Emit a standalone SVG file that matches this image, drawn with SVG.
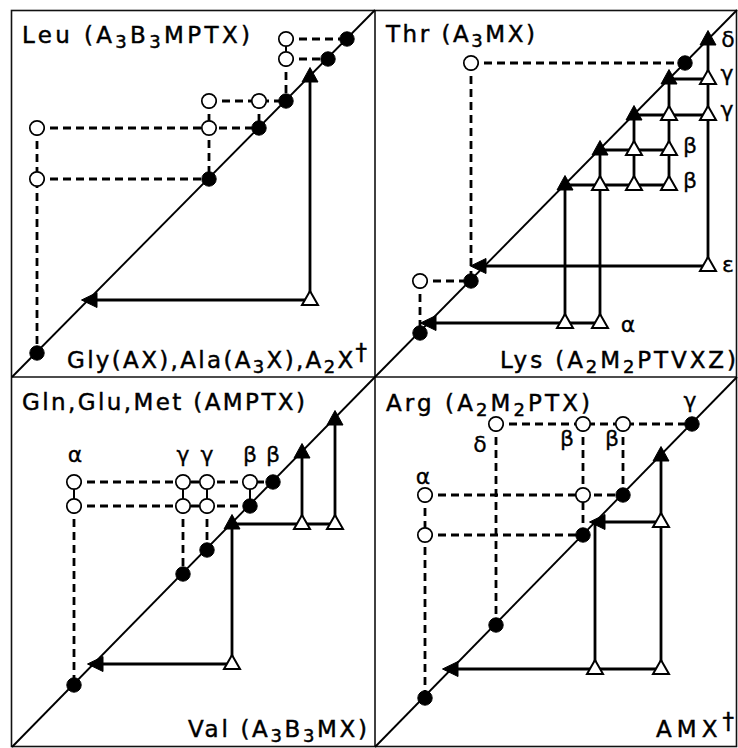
<svg xmlns="http://www.w3.org/2000/svg" xmlns:xlink="http://www.w3.org/1999/xlink" width="738" height="748" viewBox="0 0 738 748">
<style>
.frame{fill:none;stroke:#111;stroke-width:1.6}
.diag{fill:none;stroke:#000;stroke-width:1.9}
.dash{fill:none;stroke:#000;stroke-width:2.8;stroke-dasharray:8 5}
.link{fill:none;stroke:#000;stroke-width:2}
.solid{fill:none;stroke:#000;stroke-width:2.8}
.oc{fill:#fff;stroke:#000;stroke-width:1.7}
.fc{fill:#000;stroke:#000;stroke-width:1}
.t{font-family:"DejaVu Sans","Liberation Sans",sans-serif;font-size:23px;fill:#000;stroke:#000;stroke-width:0.45}
.s{font-size:18px}
.g{font-family:"DejaVu Sans","Liberation Sans",sans-serif;font-size:22px;fill:#000;stroke:#000;stroke-width:0.3;text-anchor:middle}
</style>
<defs>
<path id="tro" d="M-8,5 L8,5 L0,-9 Z" fill="#fff" stroke="#000" stroke-width="2"/>
<path id="trf" d="M-8,5 L8,5 L0,-9.5 Z" fill="#000" stroke="#000" stroke-width="1"/>
<path id="trl" d="M-9.5,0 L6,-7.5 L6,7.5 Z" fill="#000" stroke="#000" stroke-width="1"/>
</defs>
<rect x="0" y="0" width="738" height="748" fill="#fff"/>
<g id="frame">
<rect class="frame" x="11.5" y="10.5" width="725" height="736"/>
<line class="frame" x1="375" y1="10" x2="375" y2="747"/>
<line class="frame" x1="11" y1="377" x2="737" y2="377"/>
</g>

<!-- Leu panel -->
<g id="leu-connectors">
<line class="diag" x1="12" y1="377" x2="375" y2="10"/>
<path class="dash" d="M286,39 H347 M286,59 H328 M209,101 H286 M37,128 H259 M37,179 H209 M286,59 V101 M259,101 V128 M209,101 V179 M37,128 V353"/>
<path class="link" d="M286,39 V59"/>
<path class="solid" d="M310,300 V77 M310,300 H89"/>
</g>
<g id="leu-nodes">
<use xlink:href="#trf" x="310" y="77"/>
<use xlink:href="#trl" x="91" y="300"/>
<use xlink:href="#tro" x="310" y="300"/>
<circle class="fc" cx="347" cy="39" r="7.2"/>
<circle class="fc" cx="328" cy="59" r="7.2"/>
<circle class="fc" cx="286" cy="101" r="7.2"/>
<circle class="fc" cx="259" cy="128" r="7.2"/>
<circle class="fc" cx="209" cy="179" r="7.2"/>
<circle class="fc" cx="37" cy="353" r="7.2"/>
<circle class="oc" cx="286" cy="39" r="7.2"/>
<circle class="oc" cx="286" cy="59" r="7.2"/>
<circle class="oc" cx="209" cy="101" r="7.2"/>
<circle class="oc" cx="259" cy="101" r="7.2"/>
<circle class="oc" cx="37" cy="128" r="7.2"/>
<circle class="oc" cx="209" cy="128" r="7.2"/>
<circle class="oc" cx="37" cy="179" r="7.2"/>
</g>
<g id="leu-labels">
<text class="t" x="22" y="43" textLength="228" lengthAdjust="spacing">Leu (A<tspan class="s" dy="5">3</tspan><tspan dy="-5">B</tspan><tspan class="s" dy="5">3</tspan><tspan dy="-5">MPTX)</tspan></text>
<text class="t" x="67" y="368" textLength="300" lengthAdjust="spacing">Gly(AX),Ala(A<tspan class="s" dy="5">3</tspan><tspan dy="-5">X),A</tspan><tspan class="s" dy="5">2</tspan><tspan dy="-5">X</tspan><tspan dy="-8">†</tspan></text>
</g>

<!-- Thr panel -->
<g id="thr-connectors">
<line class="diag" x1="375" y1="377" x2="737" y2="10"/>
<path class="solid" d="M708,266 H486 M600,323 H430 M565,323 V185 M600,323 V150 M634,185 V115 M669,185 V79 M708,266 V40 M669,185 H565 M669,150 H600 M708,115 H634 M708,79 H669"/>
<path class="dash" d="M471,63 H685 M471,63 V281 M420,281 H471 M420,281 V333"/>
</g>
<g id="thr-nodes">
<use xlink:href="#trf" x="565" y="185"/>
<use xlink:href="#trf" x="600" y="150"/>
<use xlink:href="#trf" x="634" y="115"/>
<use xlink:href="#trf" x="669" y="79"/>
<use xlink:href="#trf" x="708" y="40"/>
<use xlink:href="#trl" x="480" y="266"/>
<use xlink:href="#trl" x="430" y="323"/>
<use xlink:href="#tro" x="600" y="185"/>
<use xlink:href="#tro" x="634" y="185"/>
<use xlink:href="#tro" x="669" y="185"/>
<use xlink:href="#tro" x="634" y="150"/>
<use xlink:href="#tro" x="669" y="150"/>
<use xlink:href="#tro" x="669" y="115"/>
<use xlink:href="#tro" x="708" y="115"/>
<use xlink:href="#tro" x="708" y="79"/>
<use xlink:href="#tro" x="708" y="266"/>
<use xlink:href="#tro" x="565" y="323"/>
<use xlink:href="#tro" x="600" y="323"/>
<circle class="fc" cx="685" cy="63" r="7.2"/>
<circle class="fc" cx="471" cy="281" r="7.2"/>
<circle class="fc" cx="420" cy="333" r="7.2"/>
<circle class="oc" cx="471" cy="63" r="7.2"/>
<circle class="oc" cx="420" cy="281" r="7.2"/>
</g>
<g id="thr-labels">
<text class="t" x="386" y="42" textLength="149" lengthAdjust="spacing">Thr (A<tspan class="s" dy="5">3</tspan><tspan dy="-5">MX)</tspan></text>
<text class="t" x="500" y="368" textLength="236" lengthAdjust="spacing">Lys (A<tspan class="s" dy="5">2</tspan><tspan dy="-5">M</tspan><tspan class="s" dy="5">2</tspan><tspan dy="-5">PTVXZ)</tspan></text>
<text class="g" x="728" y="47">δ</text>
<text class="g" x="727" y="81">γ</text>
<text class="g" x="727" y="117">γ</text>
<text class="g" x="690" y="153">β</text>
<text class="g" x="690" y="188">β</text>
<text class="g" x="728" y="272">ε</text>
<text class="g" x="628" y="332">α</text>
</g>

<!-- Gln panel -->
<g id="gln-connectors">
<line class="diag" x1="12" y1="747" x2="375" y2="377"/>
<path class="dash" d="M74,482 H273 M74,506 H250 M74,506 V685 M183,506 V574 M207,506 V550"/>
<path class="link" d="M74,482 V506 M183,482 V506 M207,482 V506 M250,482 V506"/>
<path class="solid" d="M232,664 V524 M232,664 H94 M232,524 H335 M302,524 V453 M335,524 V420"/>
</g>
<g id="gln-nodes">
<use xlink:href="#trf" x="232" y="524"/>
<use xlink:href="#trf" x="302" y="453"/>
<use xlink:href="#trf" x="335" y="420"/>
<use xlink:href="#trl" x="97" y="664"/>
<use xlink:href="#tro" x="232" y="664"/>
<use xlink:href="#tro" x="302" y="524"/>
<use xlink:href="#tro" x="335" y="524"/>
<circle class="fc" cx="273" cy="482" r="7.2"/>
<circle class="fc" cx="250" cy="506" r="7.2"/>
<circle class="fc" cx="207" cy="550" r="7.2"/>
<circle class="fc" cx="183" cy="574" r="7.2"/>
<circle class="fc" cx="74" cy="685" r="7.2"/>
<circle class="oc" cx="74" cy="482" r="7.2"/>
<circle class="oc" cx="183" cy="482" r="7.2"/>
<circle class="oc" cx="207" cy="482" r="7.2"/>
<circle class="oc" cx="250" cy="482" r="7.2"/>
<circle class="oc" cx="74" cy="506" r="7.2"/>
<circle class="oc" cx="183" cy="506" r="7.2"/>
<circle class="oc" cx="207" cy="506" r="7.2"/>
</g>
<g id="gln-labels">
<text class="t" x="22" y="410" textLength="283" lengthAdjust="spacing">Gln,Glu,Met (AMPTX)</text>
<text class="t" x="188" y="737" textLength="179" lengthAdjust="spacing">Val (A<tspan class="s" dy="5">3</tspan><tspan dy="-5">B</tspan><tspan class="s" dy="5">3</tspan><tspan dy="-5">MX)</tspan></text>
<text class="g" x="75" y="462">α</text>
<text class="g" x="183" y="462">γ</text>
<text class="g" x="207" y="462">γ</text>
<text class="g" x="250" y="462">β</text>
<text class="g" x="273" y="462">β</text>
</g>

<!-- Arg panel -->
<g id="arg-connectors">
<line class="diag" x1="375" y1="747" x2="737" y2="377"/>
<path class="dash" d="M496,424 H692 M425,495 H623 M425,535 H583 M496,424 V625 M583,424 V535 M623,424 V495 M425,495 V698"/>
<path class="solid" d="M661,669 V456 M661,522 H598 M595,669 V522 M661,669 H452"/>
</g>
<g id="arg-nodes">
<use xlink:href="#trf" x="661" y="456"/>
<use xlink:href="#trl" x="599" y="522"/>
<use xlink:href="#trl" x="452" y="669"/>
<use xlink:href="#tro" x="661" y="522"/>
<use xlink:href="#tro" x="595" y="669"/>
<use xlink:href="#tro" x="661" y="669"/>
<circle class="fc" cx="692" cy="424" r="7.2"/>
<circle class="fc" cx="623" cy="495" r="7.2"/>
<circle class="fc" cx="583" cy="535" r="7.2"/>
<circle class="fc" cx="496" cy="625" r="7.2"/>
<circle class="fc" cx="425" cy="698" r="7.2"/>
<circle class="oc" cx="496" cy="424" r="7.2"/>
<circle class="oc" cx="583" cy="424" r="7.2"/>
<circle class="oc" cx="623" cy="424" r="7.2"/>
<circle class="oc" cx="425" cy="495" r="7.2"/>
<circle class="oc" cx="583" cy="495" r="7.2"/>
<circle class="oc" cx="425" cy="535" r="7.2"/>
</g>
<g id="arg-labels">
<text class="t" x="386" y="411" textLength="204" lengthAdjust="spacing">Arg (A<tspan class="s" dy="5">2</tspan><tspan dy="-5">M</tspan><tspan class="s" dy="5">2</tspan><tspan dy="-5">PTX)</tspan></text>
<text class="t" x="656" y="737" textLength="78" lengthAdjust="spacing">AMX<tspan dy="-8">†</tspan></text>
<text class="g" x="690" y="408">γ</text>
<text class="g" x="480" y="452">δ</text>
<text class="g" x="567" y="446">β</text>
<text class="g" x="612" y="446">β</text>
<text class="g" x="423" y="484">α</text>
</g>
</svg>
